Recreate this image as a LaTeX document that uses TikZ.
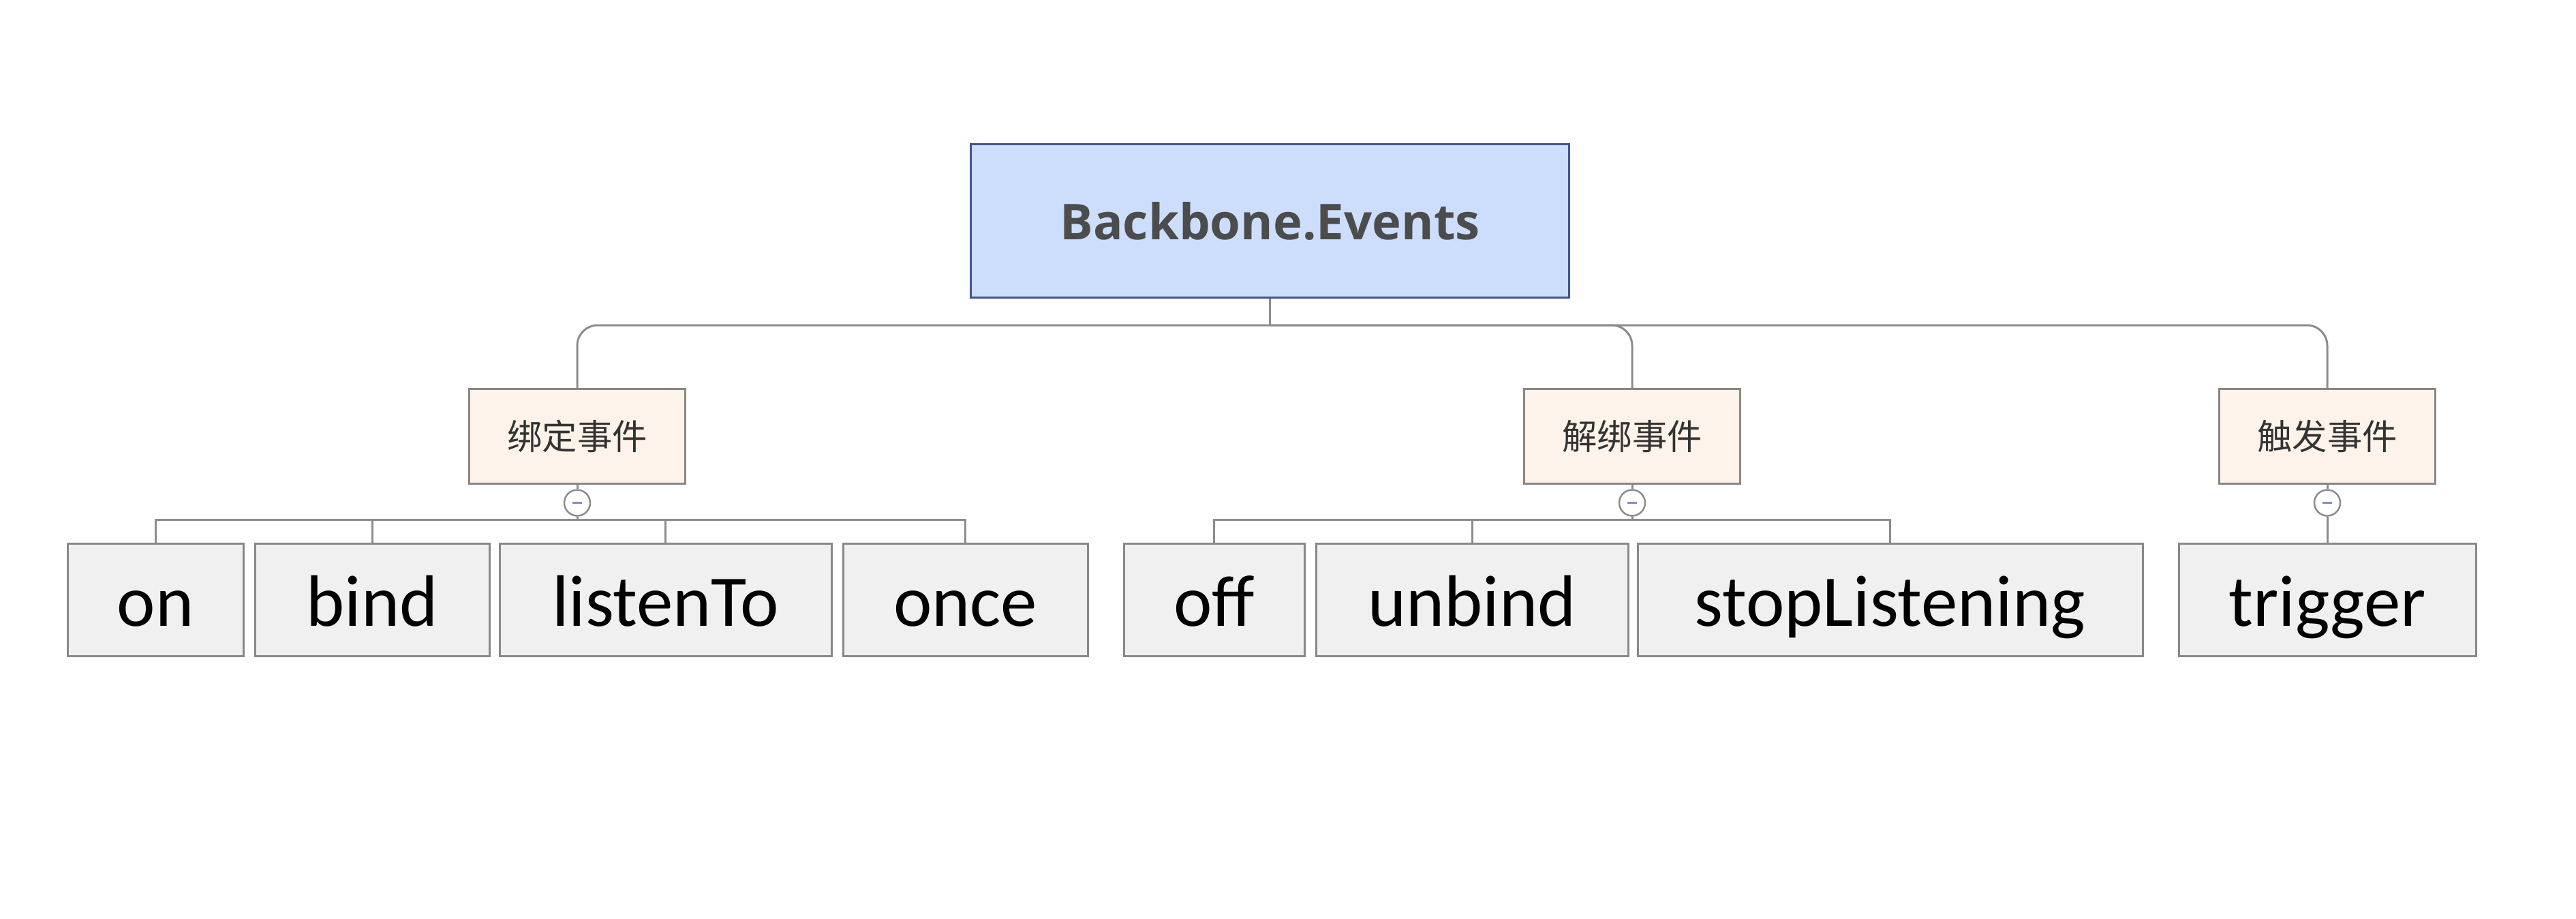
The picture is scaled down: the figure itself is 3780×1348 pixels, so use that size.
\documentclass[tikz,border=0pt]{standalone}
\usepackage{fontspec}
\usetikzlibrary{calc}
\setmainfont{Carlito}
\newfontfamily\rootfont{Open Sans}
\newfontfamily\cjk{Noto Sans CJK SC}
\definecolor{rootfill}{HTML}{CCDEFC}
\definecolor{rootline}{HTML}{3E5491}
\definecolor{catfill}{HTML}{FEF3EA}
\definecolor{catline}{HTML}{8A8681}
\definecolor{leaffill}{HTML}{F0F0F0}
\definecolor{leafline}{HTML}{888888}
\definecolor{connline}{HTML}{8C8C8C}
\definecolor{minusblue}{HTML}{7F8FCB}

\begin{document}
\begin{tikzpicture}[x=0.01cm, y=-0.01cm,
  rootbox/.style={draw=rootline, fill=rootfill, line width=0.03cm, inner sep=0pt,
    minimum width=8.77cm, minimum height=2.24cm, text=black!70,
    font=\rootfont\bfseries\fontsize{20.6pt}{24pt}\selectfont, text height=0.55cm, text depth=0pt},
  catbox/.style={draw=catline, fill=catfill, line width=0.03cm, inner sep=0pt,
    minimum width=3.16cm, minimum height=1.38cm, text=black!80,
    font=\cjk\fontsize{14.6pt}{17pt}\selectfont},
  leafbox/.style={draw=leafline, fill=leaffill, line width=0.03cm, inner sep=0pt,
    minimum height=1.64cm, font=\fontsize{30.4pt}{36pt}\selectfont,
    text height=0.76cm, text depth=0pt},
  toggle/.style={circle, draw=connline, fill=white, line width=0.025cm,
    inner sep=0pt, minimum size=0.38cm},
  conn/.style={draw=connline, line width=0.03cm}]
  \useasboundingbox (0,0) rectangle (3780,1348);

  \node[rootbox] (root) at (1863.5,324) {Backbone.Events};

  \coordinate (bus) at (0,477);
  \coordinate (bar) at (0,762);

  \node[catbox] (bindcat) at (847,640) {绑定事件};
  \node[catbox] (unbindcat) at (2395,640) {解绑事件};
  \node[catbox] (triggercat) at (3415,640) {触发事件};

  \draw[conn] (root.south) -- (root.south |- bus);
  \foreach \cat in {bindcat,unbindcat,triggercat} {
    \draw[conn, rounded corners=0.3cm] (root.south |- bus) -| (\cat.north);
  }

  \foreach \name/\x/\w/\txt in {
    on/228/258/on,
    bind/546/344/bind,
    listento/976.5/487/listenTo,
    once/1416.5/359/once,
    off/1781.5/265/off,
    unbind/2160/458/unbind,
    stoplistening/2773.5/741/stopListening,
    trigger/3415/436/trigger} {
    \node[leafbox, minimum width=\w*0.01cm] (\name) at (\x,880) {\txt};
  }

  \foreach \cat/\leaves in {bindcat/{on,bind,listento,once},
                            unbindcat/{off,unbind,stoplistening},
                            triggercat/{trigger}} {
    \node[toggle] (\cat-tog) at ($(\cat.south)+(0,27)$) {};
    \draw[conn] (\cat.south) -- (\cat-tog.north);
    \foreach \leaf in \leaves {
      \draw[conn] (\cat-tog.south) -- (\cat-tog.south |- bar) -| (\leaf.north);
    }
    \draw[draw=minusblue, line width=0.035cm] (\cat-tog.center) +(-7,0) -- +(7,0);
  }
\end{tikzpicture}
\end{document}
